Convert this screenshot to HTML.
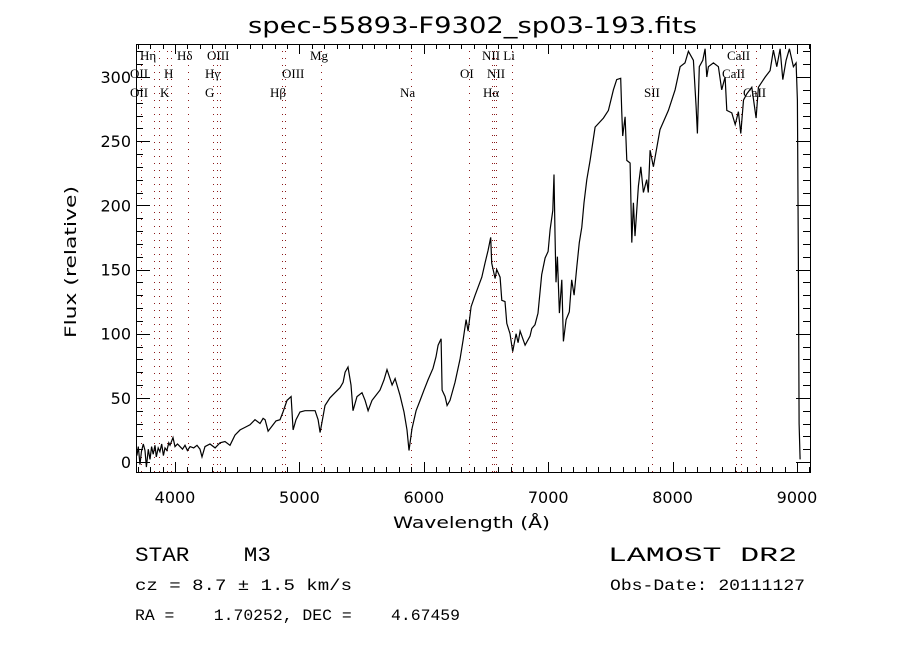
<!DOCTYPE html>
<html><head><meta charset="utf-8"><style>
body{margin:0;background:#fff;}
svg{display:block;}
text{font-family:"Liberation Serif",serif;fill:#000;}
.ax{font-family:"DejaVu Sans","Liberation Sans",sans-serif;font-size:16px;}
</style></head><body>
<svg id="c" width="900" height="650" viewBox="0 0 900 650">
<rect width="900" height="650" fill="#fff"/>
<text x="248" y="33" textLength="449" lengthAdjust="spacingAndGlyphs" style="font-family:'DejaVu Sans','Liberation Sans',sans-serif;font-size:22px">spec-55893-F9302_sp03-193.fits</text>
<g id="lines"></g>
<g id="labels"></g>
<g id="axes"></g>
<path id="spec" fill="none" stroke="#000" stroke-width="1.2"/>
<text class="ax" x="393" y="528" textLength="157" lengthAdjust="spacingAndGlyphs">Wavelength (Å)</text>
<text class="ax" transform="translate(76,338) rotate(-90)" textLength="152" lengthAdjust="spacingAndGlyphs">Flux (relative)</text>
<text x="135" y="561" textLength="136" lengthAdjust="spacingAndGlyphs" style="font-family:'Liberation Mono',monospace;font-size:20px" xml:space="preserve">STAR    M3</text>
<text x="608" y="561" textLength="189" lengthAdjust="spacingAndGlyphs" style="font-family:'Liberation Mono',monospace;font-size:20px">LAMOST DR2</text>
<text x="135" y="590" textLength="217" lengthAdjust="spacingAndGlyphs" style="font-family:'Liberation Mono',monospace;font-size:16px">cz = 8.7 ± 1.5 km/s</text>
<text x="610" y="590" textLength="195" lengthAdjust="spacingAndGlyphs" style="font-family:'Liberation Mono',monospace;font-size:16px">Obs-Date: 20111127</text>
<text x="135" y="620" textLength="325" lengthAdjust="spacingAndGlyphs" style="font-family:'Liberation Mono',monospace;font-size:16px" xml:space="preserve">RA =    1.70252, DEC =    4.67459</text>
</svg>
<script>
const wave=[3694,3705,3719,3730,3745,3759,3770,3785,3799,3812,3825,3839,3850,3865,3879,3893,3907,3920,3935,3950,3960,3984,4000,4020,4040,4060,4080,4100,4121,4150,4177,4201,4217,4241,4281,4322,4362,4402,4442,4482,4523,4563,4603,4643,4683,4708,4724,4748,4780,4812,4844,4868,4900,4933,4949,4973,5005,5045,5085,5126,5150,5166,5182,5206,5246,5286,5327,5351,5367,5391,5415,5431,5463,5503,5528,5552,5584,5616,5648,5680,5704,5745,5769,5809,5841,5865,5881,5905,5938,5970,6002,6034,6074,6098,6115,6139,6147,6171,6187,6211,6251,6291,6316,6340,6356,6380,6412,6466,6492,6517,6538,6546,6573,6586,6613,6627,6653,6667,6693,6715,6742,6758,6774,6814,6854,6868,6894,6918,6948,6975,6999,7015,7037,7047,7055,7063,7074,7090,7109,7122,7144,7170,7189,7208,7230,7250,7270,7288,7310,7337,7377,7444,7484,7524,7551,7583,7591,7599,7618,7632,7658,7672,7685,7698,7725,7744,7765,7792,7805,7819,7846,7899,7966,8020,8060,8100,8127,8167,8189,8199,8215,8243,8261,8275,8288,8328,8368,8395,8422,8436,8476,8503,8529,8548,8570,8597,8637,8671,8690,8744,8784,8810,8838,8864,8886,8912,8939,8971,8993,9003,9011,9017,9025];
const flux=[5,12,-2,8,14,9,-4,10,2,12,6,13,4,11,8,14,5,11,9,15,13,19,12,14,12,10,13,9,12,11,13,10,4,12,14,11,15,16,13,21,25,27,29,33,30,34,33,24,28,32,33,39,48,51,25,33,39,40,40,40,33,23,31,44,50,54,58,62,70,74,60,40,51,54,48,40,48,52,56,64,72,60,65,52,39,25,9,26,40,48,56,64,73,82,91,96,56,51,44,48,62,80,95,111,102,121,130,144,155,165,175,155,143,150,144,126,125,108,100,86,100,93,102,91,98,104,107,116,146,159,164,181,196,224,178,140,160,116,142,94,111,117,142,130,152,171,183,202,220,235,261,268,274,290,298,299,274,254,269,235,233,171,202,176,215,230,210,220,210,243,230,259,274,290,308,311,320,313,277,256,308,313,322,300,308,311,308,290,300,274,272,263,273,256,282,287,292,268,292,300,305,321,308,322,298,313,322,308,311,282,152,30,2];
const lineWave=[3727,3835,3869,3934,3969,4102,4304,4340,4363,4861,4886,5175,5894,6360,6548,6563,6583,6707,7836,8508,8551,8671];
const xTicks=[4000,5000,6000,7000,8000,9000];
const yTicks=[0,50,100,150,200,250,300];
const L=136,R=810,T=44,B=472;
function sx(w){return 175+(w-4000)*0.1244;}
function sy(f){return 462-f*1.2833;}
const NS='http://www.w3.org/2000/svg';
function mk(tag,attrs,parent){const e=document.createElementNS(NS,tag);for(const k in attrs)e.setAttribute(k,attrs[k]);parent.appendChild(e);return e;}
let d='';
for(let i=0;i<wave.length;i++){d+=(i?'L':'M')+sx(wave[i]).toFixed(1)+' '+sy(flux[i]).toFixed(1);}
document.getElementById('spec').setAttribute('d',d);
const lg=document.getElementById('lines');
lineWave.forEach(w=>{const x=Math.round(sx(w))+0.5;
 const ln=mk('line',{x1:x,x2:x,y1:T,y2:B,stroke:'#8b1a1a','stroke-width':1,'stroke-dasharray':'1 6'},lg);
 
 
});
const labs=[['Hη',140,60],['Hδ',177,60],['OIII',207,60],['Mg',310,60],['NII Li',482,60],['CaII',727,60],
['OII',130,78],['H',164,78],['Hγ',205,78],['OIII',282,78],['OI',460,78],['NII',487,78],['CaII',722,78],
['OII',130,97],['K',160,97],['G',205,97],['Hβ',270,97],['Na',400,97],['Hα',483,97],['SII',644,97],['CaII',743,97]];
const lb=document.getElementById('labels');
labs.forEach(a=>{const t=mk('text',{x:a[1],y:a[2],'font-size':'13'},lb);t.textContent=a[0];
 
 
});
const ag=document.getElementById('axes');
const fr=mk('rect',{x:L+0.5,y:T+0.5,width:R-L,height:B-T,fill:'none',stroke:'#000','stroke-width':1},ag);


for(let w=3700;w<=9100;w+=100){const x=Math.round(sx(w))+0.5;if(x<L||x>R)continue;const len=(w%1000===0)?10:5;
 mk('line',{x1:x,x2:x,y1:B,y2:B-len,stroke:'#000'},ag);mk('line',{x1:x,x2:x,y1:T,y2:T+len,stroke:'#000'},ag);}
for(let f=0;f<=320;f+=10){const y=Math.round(sy(f))+0.5;if(y<T||y>B)continue;const len=(f%50===0)?14:7;
 mk('line',{x1:L,x2:L+len,y1:y,y2:y,stroke:'#000'},ag);mk('line',{x1:R,x2:R-len,y1:y,y2:y,stroke:'#000'},ag);}
xTicks.forEach(v=>{const t=mk('text',{x:sx(v),y:503,'text-anchor':'middle',class:'ax'},ag);t.textContent=v;
 
 
});
yTicks.forEach(v=>{const t=mk('text',{x:131,y:sy(v)+6,'text-anchor':'end',class:'ax'},ag);t.textContent=v;
 
 
});
</script>
</body></html>
